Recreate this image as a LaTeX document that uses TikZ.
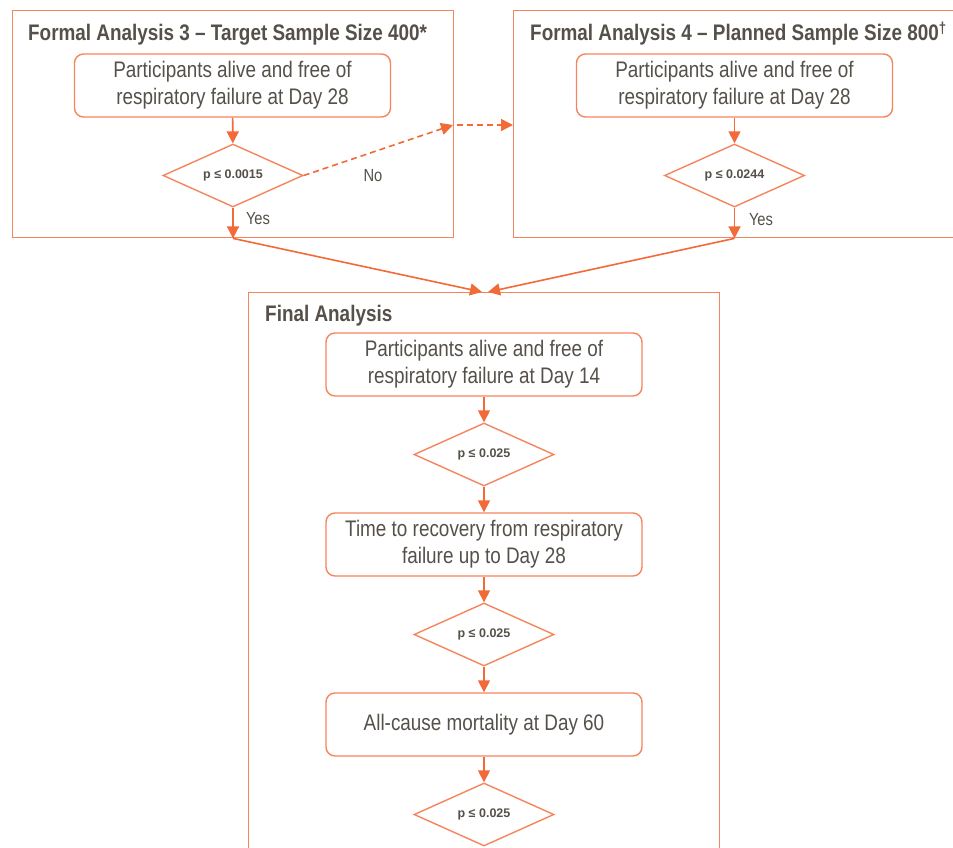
\documentclass[tikz,border=0pt]{standalone}
\usepackage{fontspec}
\setmainfont{Liberation Sans}
\newfontfamily\nfont[FakeStretch=0.84]{Liberation Sans}
\usetikzlibrary{shapes.geometric,arrows.meta}
\definecolor{frameC}{HTML}{F5855E}
\definecolor{arrC}{HTML}{F26A38}
\definecolor{txtC}{HTML}{55514A}
\begin{document}
\begin{tikzpicture}[x=1pt,y=-1pt,
  frame/.style={draw=frameC, line width=1.4pt, inner sep=0pt, anchor=north west},
  box/.style={draw=frameC, line width=1.4pt, rounded corners=9pt, minimum width=316pt, minimum height=63pt, align=center, text=txtC, font=\nfont\fontsize{22.5}{27}\selectfont, inner sep=0pt},
  dia/.style={draw=frameC, line width=1.4pt, diamond, aspect=2.22, minimum width=140pt, minimum height=63pt, inner sep=0pt, text=txtC, font=\bfseries\fontsize{12.5}{14}\selectfont},
  arr/.style={draw=arrC, line width=1.6pt, -{Triangle[length=12pt,width=12pt]}},
  dsh/.style={arr, dash pattern=on 6pt off 4pt},
  ttl/.style={anchor=base west, text=txtC, font=\nfont\bfseries\fontsize{22.5}{26}\selectfont, inner sep=0pt},
  lab/.style={text=txtC, font=\nfont\fontsize{17.5}{20}\selectfont, inner sep=0pt}
]
\clip (0,0) rectangle (953,848);
\fill[white] (0,0) rectangle (953,848);

% frames
\node[frame, minimum width=441pt, minimum height=227pt] (fL) at (12,10) {};
\node[frame, minimum width=470pt, minimum height=227pt] (fR) at (513,10) {};
\node[frame, minimum width=471pt, minimum height=600pt] (fF) at (248,292) {};

% titles
\node[ttl] (tL) at (28,41) {Formal Analysis 3 – Target Sample Size 400*};
\node[ttl] (tR) at (530,41) {Formal Analysis 4 – Planned Sample Size 800\textsuperscript{†}};
\node[ttl] (tF) at (265,321) {Final Analysis};

% left column
\node[box] (bL) at (232.5,85.5) {Participants alive and free of\\respiratory failure at Day 28};
\node[dia] (dL) at (233,175.5) {p ≤ 0.0015};
\draw[arr] (bL) -- (dL);
\coordinate (yL) at (dL.south |- fL.south);
\draw[arr] (dL) -- (yL);
\node[lab] (yesL) at (258,219) {Yes};
\node[lab] (noL) at (373,176) {No};
\coordinate (mid) at (453,125);
\draw[dsh] (dL.east) -- (mid);
\coordinate (mid2) at (457,125);
\draw[dsh] (mid2) -- (mid2 -| fR.west);

% right column
\node[box] (bR) at (734.5,85.5) {Participants alive and free of\\respiratory failure at Day 28};
\node[dia] (dR) at (734.5,175.5) {p ≤ 0.0244};
\draw[arr] (bR) -- (dR);
\coordinate (yR) at (dR.south |- fR.south);
\draw[arr] (dR) -- (yR);
\node[lab] (yesR) at (761,220) {Yes};

% converging
\coordinate (inL) at (482,292);
\coordinate (inR) at (488,292);
\draw[arr] (yL) -- (inL);
\draw[arr] (yR) -- (inR);

% final column
\node[box] (b1) at (484,364.5) {Participants alive and free of\\respiratory failure at Day 14};
\node[dia] (d1) at (484,454.5) {p ≤ 0.025};
\node[box] (b2) at (484,544.5) {Time to recovery from respiratory\\failure up to Day 28};
\node[dia] (d2) at (484,634.5) {p ≤ 0.025};
\node[box] (b3) at (484,724.5) {All-cause mortality at Day 60};
\node[dia] (d3) at (484,814.5) {p ≤ 0.025};
\draw[arr] (b1) -- (d1);
\draw[arr] (d1) -- (b2);
\draw[arr] (b2) -- (d2);
\draw[arr] (d2) -- (b3);
\draw[arr] (b3) -- (d3);
\end{tikzpicture}
\end{document}
